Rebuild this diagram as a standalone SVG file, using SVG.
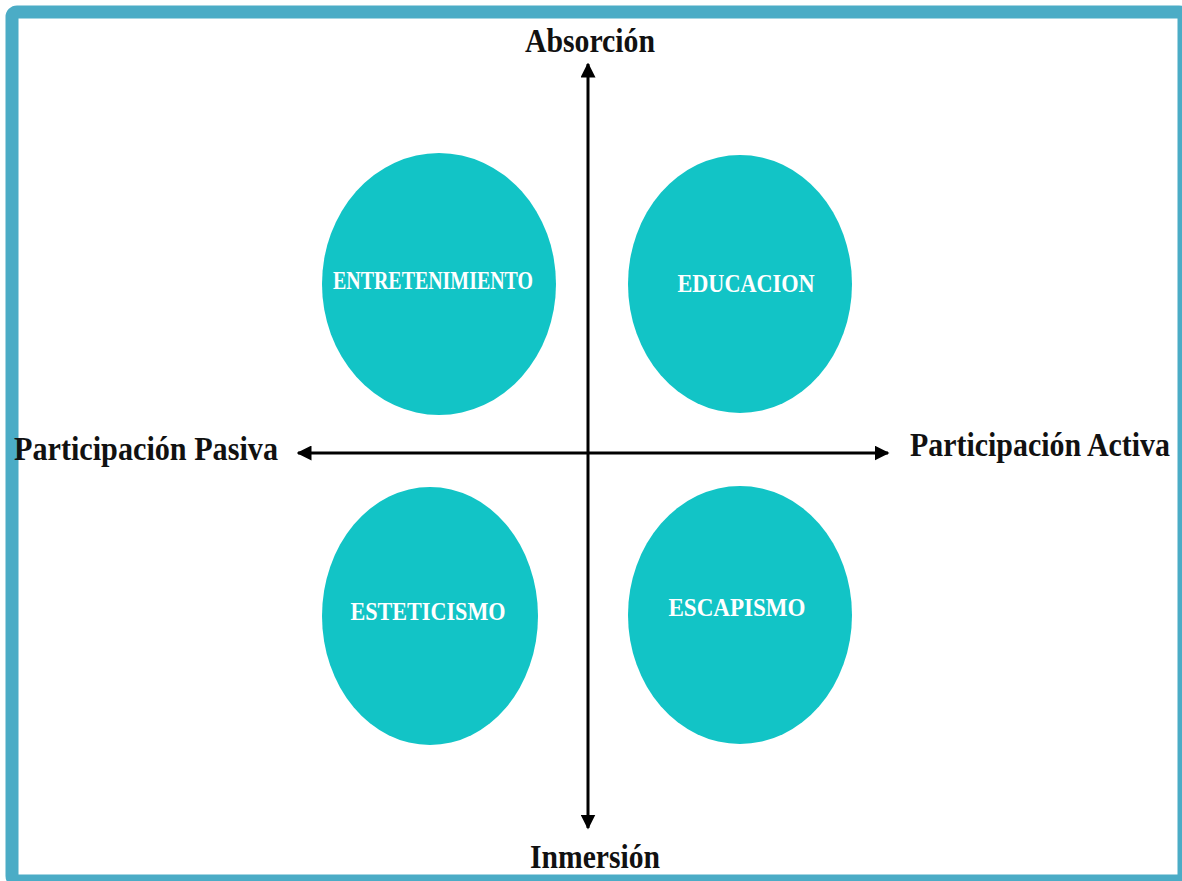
<svg xmlns="http://www.w3.org/2000/svg" width="1182" height="881" viewBox="0 0 1182 881">
<style>
.axis-label{font-family:"Liberation Serif","Times New Roman",serif;font-weight:bold;font-size:33px;fill:#111}
.node-label{font-family:"Liberation Serif","Times New Roman",serif;font-weight:bold;font-size:25px;fill:#fff;text-anchor:middle}
.bubble{fill:#12C4C6}
.axis{stroke:#000;stroke-width:3;fill:none}
</style>
<defs>
<marker id="arr" viewBox="0 0 10 10" refX="9" refY="5" markerWidth="5" markerHeight="5" orient="auto-start-reverse" markerUnits="strokeWidth">
<path d="M0,0 L10,5 L0,10 z" fill="#000"/>
</marker>
</defs>
<rect x="0" y="0" width="1182" height="881" fill="#fff"/>
<rect x="12" y="12" width="1172" height="869" rx="5" fill="none" stroke="#4BACC6" stroke-width="13"/>
<g id="connectors">
<line class="axis" x1="588" y1="64" x2="588" y2="828" marker-start="url(#arr)" marker-end="url(#arr)"/>
<line class="axis" x1="298" y1="453" x2="888" y2="453" marker-start="url(#arr)" marker-end="url(#arr)"/>
</g>
<g id="label-absorcion"><text class="axis-label" x="525" y="52" textLength="130" lengthAdjust="spacingAndGlyphs">Absorción</text></g>
<g id="label-inmersion"><text class="axis-label" x="530" y="868" textLength="130" lengthAdjust="spacingAndGlyphs">Inmersión</text></g>
<g id="label-pasiva"><text class="axis-label" x="14" y="460" textLength="264" lengthAdjust="spacingAndGlyphs">Participación Pasiva</text></g>
<g id="label-activa"><text class="axis-label" x="910" y="456" textLength="260" lengthAdjust="spacingAndGlyphs">Participación Activa</text></g>
<g id="node-entretenimiento">
<ellipse class="bubble" cx="439" cy="284" rx="117" ry="131"/>
<text class="node-label" x="433" y="289" textLength="200" lengthAdjust="spacingAndGlyphs">ENTRETENIMIENTO</text>
</g>
<g id="node-educacion">
<ellipse class="bubble" cx="740" cy="284" rx="112" ry="129"/>
<text class="node-label" x="746" y="292" textLength="137" lengthAdjust="spacingAndGlyphs">EDUCACION</text>
</g>
<g id="node-esteticismo">
<ellipse class="bubble" cx="430" cy="616" rx="108" ry="129"/>
<text class="node-label" x="428" y="620" textLength="155" lengthAdjust="spacingAndGlyphs">ESTETICISMO</text>
</g>
<g id="node-escapismo">
<ellipse class="bubble" cx="740" cy="615" rx="112" ry="129"/>
<text class="node-label" x="737" y="616" textLength="137" lengthAdjust="spacingAndGlyphs">ESCAPISMO</text>
</g>
</svg>
